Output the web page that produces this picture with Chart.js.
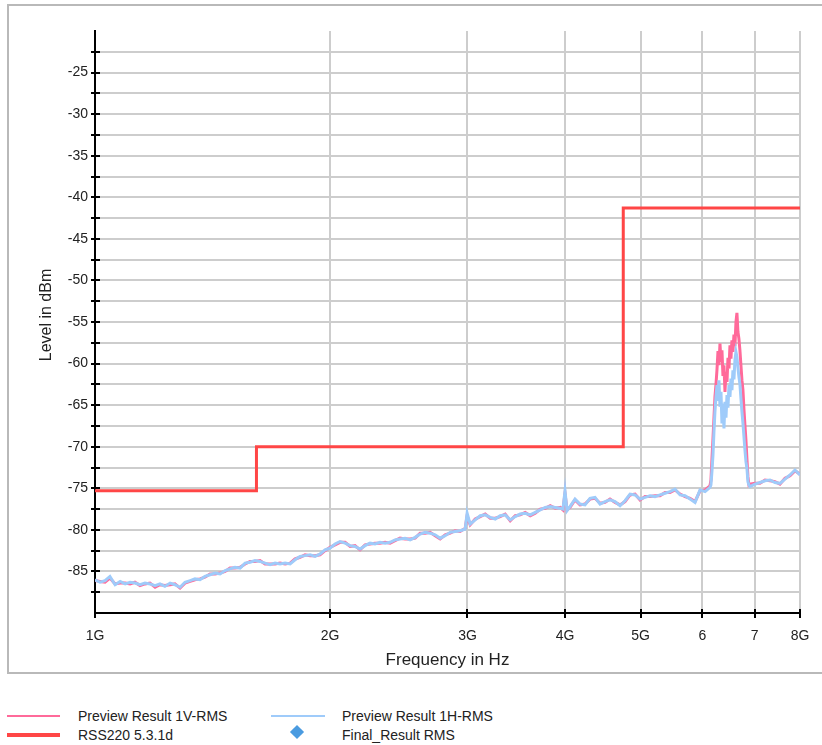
<!DOCTYPE html>
<html>
<head>
<meta charset="utf-8">
<script src="https://cdn.jsdelivr.net/npm/chart.js@4.4.1/dist/chart.umd.min.js"></script>
<style>
  html, body { margin: 0; padding: 0; background: #fff; }
  body { width: 822px; height: 745px; overflow: hidden; position: relative;
         font-family: "Liberation Sans", Arial, sans-serif; color: #222; }
  #frame { position: absolute; left: 7px; top: 4px; width: 900px; height: 670px;
           box-sizing: border-box; border: 2px solid #b9b9b9; background: #fff; }
  #chart { position: absolute; left: 0; top: 0; }
  .lg-text { position: absolute; font-size: 14px; line-height: 16px; white-space: nowrap; color: #222; }
  .lg-line { position: absolute; }
  .lg-diamond { position: absolute; width: 10px; height: 10px; background: #4a9be0; transform: rotate(45deg); }
</style>
</head>
<body>
<div id="frame"></div>
<canvas id="chart" width="822" height="680"></canvas>

<div class="lg-line" id="swV" style="left:7px; top:715px; width:53px; height:1.5px;"></div>
<div class="lg-text" id="txV" style="left:78px; top:708px;"></div>
<div class="lg-line" id="swL" style="left:7px; top:733px; width:53px; height:4px;"></div>
<div class="lg-text" id="txL" style="left:78px; top:727px;"></div>
<div class="lg-line" id="swH" style="left:271px; top:715px; width:54px; height:1.5px;"></div>
<div class="lg-text" id="txH" style="left:342px; top:708px;"></div>
<div class="lg-diamond" id="swF" style="left:292px; top:727px;"></div>
<div class="lg-text" id="txF" style="left:342px; top:727px;"></div>

<script>
// Sweep frequencies in GHz, shared by both preview traces
const freqGHz = [
  1.000, 1.015, 1.030, 1.045, 1.061, 1.077, 1.093, 1.109, 1.125, 1.142,
  1.159, 1.176, 1.194, 1.211, 1.229, 1.248, 1.266, 1.285, 1.304, 1.324,
  1.343, 1.363, 1.383, 1.404, 1.425, 1.446, 1.468, 1.489, 1.511, 1.534,
  1.557, 1.580, 1.603, 1.627, 1.651, 1.676, 1.701, 1.726, 1.752, 1.778,
  1.804, 1.831, 1.858, 1.886, 1.914, 1.942, 1.971, 2.000, 2.030, 2.060,
  2.091, 2.122, 2.153, 2.185, 2.218, 2.251, 2.284, 2.318, 2.353, 2.388,
  2.423, 2.459, 2.496, 2.533, 2.571, 2.609, 2.648, 2.687, 2.727, 2.768,
  2.809, 2.851, 2.893, 2.936, 2.980, 2.997, 3.024, 3.069, 3.115, 3.161,
  3.208, 3.256, 3.304, 3.353, 3.403, 3.454, 3.505, 3.557, 3.610, 3.664,
  3.718, 3.774, 3.830, 3.887, 3.945, 3.976, 4.000, 4.024, 4.059, 4.120,
  4.181, 4.243, 4.306, 4.370, 4.435, 4.501, 4.568, 4.636, 4.705, 4.775,
  4.846, 4.918, 4.991, 5.065, 5.140, 5.216, 5.294, 5.373, 5.452, 5.533,
  5.616, 5.699, 5.784, 5.870, 5.957, 6.046, 6.134, 6.152, 6.170, 6.189,
  6.207, 6.225, 6.244, 6.262, 6.281, 6.299, 6.318, 6.337, 6.355, 6.374,
  6.393, 6.412, 6.431, 6.450, 6.469, 6.488, 6.507, 6.526, 6.545, 6.564,
  6.584, 6.603, 6.623, 6.642, 6.662, 6.681, 6.701, 6.721, 6.741, 6.761,
  6.781, 6.801, 6.821, 6.841, 6.861, 6.881, 6.902, 7.005, 7.109, 7.215,
  7.322, 7.430, 7.541, 7.653, 7.767, 7.882, 8.000
];

// Preview Result 1V-RMS, level in dBm
const levelV = [
  -86.1, -86.2, -86.3, -85.8, -86.5, -86.4, -86.4, -86.5, -86.3, -86.7,
  -86.5, -86.4, -86.9, -86.6, -86.7, -86.6, -86.5, -87.0, -86.4, -86.2,
  -86.0, -85.9, -85.7, -85.3, -85.3, -85.2, -85.0, -84.6, -84.6, -84.5,
  -84.1, -83.8, -83.8, -83.7, -84.1, -84.1, -84.1, -84.0, -84.1, -84.0,
  -83.5, -83.3, -83.0, -83.1, -83.1, -83.0, -82.5, -82.1, -81.8, -81.5,
  -81.5, -82.0, -81.9, -82.4, -81.8, -81.7, -81.6, -81.6, -81.5, -81.6,
  -81.3, -81.0, -81.1, -81.1, -81.0, -80.4, -80.4, -80.3, -80.7, -81.1,
  -80.6, -80.4, -80.1, -80.2, -79.8, -78.3, -79.4, -78.7, -78.4, -78.1,
  -78.6, -78.6, -78.4, -78.1, -78.9, -78.3, -78.2, -77.9, -78.3, -78.0,
  -77.5, -77.4, -77.1, -77.4, -77.3, -77.6, -75.6, -77.6, -77.3, -76.4,
  -77.0, -76.9, -76.3, -76.2, -76.8, -76.7, -76.3, -76.7, -77.0, -76.6,
  -75.8, -75.7, -76.4, -76.0, -76.0, -75.9, -75.9, -75.5, -75.5, -75.2,
  -75.7, -76.0, -76.2, -76.6, -75.3, -75.2, -74.7, -74.0, -71.5, -69.0,
  -66.5, -64.0, -62.5, -60.8, -58.5, -60.2, -57.6, -59.8, -58.4, -61.5,
  -60.2, -63.4, -61.0, -62.2, -59.3, -60.6, -57.8, -59.4, -57.2, -58.6,
  -56.5, -57.9, -55.0, -53.9, -56.2, -57.0, -58.4, -60.2, -62.0, -63.2,
  -65.5, -67.4, -69.2, -71.5, -73.6, -74.6, -74.5, -74.4, -74.4, -74.0,
  -74.1, -74.2, -74.5, -73.8, -73.5, -72.9, -73.3
];

// Preview Result 1H-RMS, level in dBm
const levelH = [
  -86.0, -86.3, -86.1, -85.6, -86.6, -86.2, -86.5, -86.3, -86.4, -86.6,
  -86.4, -86.5, -86.7, -86.5, -86.8, -86.4, -86.6, -86.9, -86.3, -86.1,
  -85.9, -86.0, -85.6, -85.4, -85.2, -85.3, -84.9, -84.7, -84.5, -84.6,
  -84.0, -83.9, -83.7, -83.8, -84.0, -84.2, -84.0, -84.1, -84.0, -84.1,
  -83.6, -83.2, -83.1, -83.0, -83.2, -82.9, -82.4, -82.2, -81.7, -81.4,
  -81.6, -81.9, -82.0, -82.3, -81.9, -81.6, -81.7, -81.5, -81.6, -81.5,
  -81.2, -81.1, -81.0, -81.2, -80.9, -80.5, -80.3, -80.4, -80.6, -81.0,
  -80.7, -80.3, -80.2, -80.1, -79.9, -78.0, -79.3, -78.8, -78.3, -78.2,
  -78.5, -78.7, -78.3, -78.2, -78.8, -78.4, -78.1, -78.0, -78.2, -77.9,
  -77.6, -77.3, -77.2, -77.3, -77.4, -77.5, -75.3, -77.7, -77.2, -76.3,
  -76.9, -77.0, -76.2, -76.1, -76.9, -76.6, -76.4, -76.6, -77.1, -76.5,
  -75.7, -75.8, -76.3, -76.1, -75.9, -76.0, -75.8, -75.6, -75.4, -75.1,
  -75.8, -75.9, -76.3, -76.7, -75.2, -75.4, -74.9, -74.6, -73.0, -71.0,
  -68.2, -65.8, -64.0, -62.6, -64.5, -62.0, -65.2, -63.4, -67.2, -64.8,
  -67.8, -64.6, -66.5, -63.8, -65.3, -62.6, -64.0, -61.8, -63.2, -60.8,
  -61.9, -59.6, -58.6, -59.2, -60.5, -61.6, -62.5, -64.2, -65.8, -67.2,
  -68.8, -70.4, -71.8, -72.6, -74.2, -74.6, -74.8, -74.5, -74.3, -74.1,
  -74.0, -74.3, -74.4, -73.9, -73.4, -72.8, -73.4
];

// RSS220 5.3.1d limit line (corner points)
const limitFreqGHz = [1.0, 1.61, 1.61, 4.75, 4.75, 8.0];
const limitLevel = [-75.3, -75.3, -70.0, -70.0, -41.3, -41.3];

// Final_Result RMS (no final measurements)
const finalFreqGHz = [];
const finalLevel = [];

// Axes
const xTickValues = [1, 2, 3, 4, 5, 6, 7, 8];
const xTickLabels = ['1G', '2G', '3G', '4G', '5G', '6', '7', '8G'];
const yTickValues = [-87.5, -85, -82.5, -80, -77.5, -75, -72.5, -70, -67.5, -65, -62.5, -60,
  -57.5, -55, -52.5, -50, -47.5, -45, -42.5, -40, -37.5, -35, -32.5, -30, -27.5, -25, -22.5];
const yTitle = 'Level in dBm';

const seriesNames = ['Preview Result 1V-RMS', 'Preview Result 1H-RMS', 'RSS220 5.3.1d', 'Final_Result RMS'];
const colV = '#ff6a9a', colH = '#9fcbfa', colLimit = '#ff4646', colFinal = '#4a9be0';

const pts = (xs, ys) => xs.map((x, i) => ({ x: x, y: ys[i] }));

const FONT = '"Liberation Sans", Arial, sans-serif';

// short black tick marks crossing both axis lines, plus the vertical axis title
const axisDecor = {
  id: 'axisDecor',
  afterDraw(chart) {
    const { ctx, chartArea, scales } = chart;
    const xs = scales.x, ys = scales.y;
    ctx.save();
    ctx.strokeStyle = '#000';
    ctx.lineWidth = 2;
    ctx.beginPath();
    ys.ticks.forEach(t => {
      const py = Math.round(ys.getPixelForValue(t.value));
      ctx.moveTo(chartArea.left - 4, py);
      ctx.lineTo(chartArea.left + 5, py);
    });
    xs.ticks.forEach(t => {
      const px = Math.round(xs.getPixelForValue(t.value));
      ctx.moveTo(px, chartArea.bottom - 4);
      ctx.lineTo(px, chartArea.bottom + 5);
    });
    ctx.stroke();

    // axis title, slightly above the middle of the plot height
    ctx.translate(ys.left + 47, (chartArea.top + chartArea.bottom) / 2 - 7);
    ctx.rotate(-Math.PI / 2);
    ctx.fillStyle = '#222';
    ctx.font = '16px ' + FONT;
    ctx.textAlign = 'center';
    ctx.textBaseline = 'middle';
    ctx.fillText(yTitle, 0, 0);
    ctx.restore();
  }
};

new Chart(document.getElementById('chart'), {
  type: 'line',
  data: {
    datasets: [
      { label: seriesNames[2], data: pts(limitFreqGHz, limitLevel), borderColor: colLimit,
        borderWidth: 3, pointRadius: 0, tension: 0, order: 0 },
      { label: seriesNames[1], data: pts(freqGHz, levelH), borderColor: colH,
        borderWidth: 3, pointRadius: 0, tension: 0, order: 1 },
      { label: seriesNames[0], data: pts(freqGHz, levelV), borderColor: colV,
        borderWidth: 3, pointRadius: 0, tension: 0, order: 2 },
      { label: seriesNames[3], type: 'scatter', data: pts(finalFreqGHz, finalLevel),
        backgroundColor: colFinal, pointStyle: 'rectRot', pointRadius: 6, order: 0 }
    ]
  },
  options: {
    responsive: false,
    animation: false,
    devicePixelRatio: 1,
    layout: { padding: { left: 0, right: 22, top: 31, bottom: 7 } },
    plugins: { legend: { display: false }, tooltip: { enabled: false } },
    scales: {
      x: {
        type: 'logarithmic', min: 1, max: 8,
        afterBuildTicks: s => { s.ticks = xTickValues.map(v => ({ value: v })); },
        afterFit: s => { s.height = 60; s.paddingLeft = 0; s.paddingRight = 0; },
        ticks: { autoSkip: false, maxRotation: 0, padding: 15, color: '#222',
                 font: { family: FONT, size: 14 },
                 callback: (v, i) => xTickLabels[i] },
        grid: { color: '#cdcdcd', lineWidth: 2, drawTicks: false },
        border: { color: '#000', width: 2 },
        title: { display: true, text: 'Frequency in Hz', color: '#222',
                 font: { family: FONT, size: 17 }, padding: { top: 0, bottom: 2 } }
      },
      y: {
        type: 'linear', min: -90, max: -20,
        afterBuildTicks: s => { s.ticks = yTickValues.map(v => ({ value: v })); },
        afterFit: s => { s.width = 95; s.paddingTop = 0; s.paddingBottom = 0; },
        ticks: { autoSkip: false, padding: 7, color: '#222',
                 font: { family: FONT, size: 14 },
                 callback: v => (Number.isInteger(v / 5) ? String(v) : '') },
        grid: { color: '#cdcdcd', lineWidth: 2, drawTicks: false },
        border: { color: '#000', width: 2 },
        title: { display: false }
      }
    }
  },
  plugins: [axisDecor]
});

// legend beneath the chart
document.getElementById('swV').style.background = colV;
document.getElementById('swH').style.background = colH;
document.getElementById('swL').style.background = colLimit;
document.getElementById('swF').style.background = colFinal;
document.getElementById('txV').textContent = seriesNames[0];
document.getElementById('txH').textContent = seriesNames[1];
document.getElementById('txL').textContent = seriesNames[2];
document.getElementById('txF').textContent = seriesNames[3];
</script>
</body>
</html>
